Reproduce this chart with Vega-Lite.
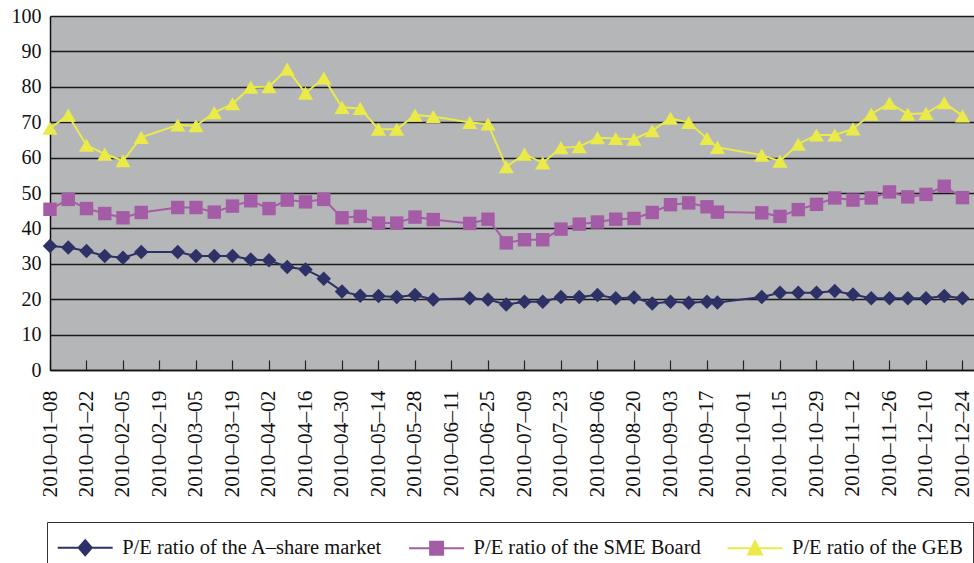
{
  "$schema": "https://vega.github.io/schema/vega-lite/v6.json",
  "width": 924,
  "height": 354,
  "autosize": {"type": "none"},
  "padding": {"left": 50, "top": 16, "right": 0, "bottom": 193},
  "background": "white",
  "config": {
    "view": {"fill": "#b5b6b8", "stroke": null},
    "font": "Liberation Serif, DejaVu Serif, Times New Roman, serif"
  },
  "data": {
    "values": [
      {"date": "2010-01-08", "A": 35.0, "SME": 45.4, "GEB": 68.3},
      {"date": "2010-01-15", "A": 34.6, "SME": 48.2, "GEB": 72.0},
      {"date": "2010-01-22", "A": 33.6, "SME": 45.6, "GEB": 63.5},
      {"date": "2010-01-29", "A": 32.2, "SME": 44.2, "GEB": 61.0},
      {"date": "2010-02-05", "A": 31.7, "SME": 43.0, "GEB": 59.1},
      {"date": "2010-02-12", "A": 33.3, "SME": 44.5, "GEB": 65.7},
      {"date": "2010-02-26", "A": 33.3, "SME": 45.9, "GEB": 69.2},
      {"date": "2010-03-05", "A": 32.2, "SME": 45.9, "GEB": 69.0},
      {"date": "2010-03-12", "A": 32.2, "SME": 44.6, "GEB": 72.7},
      {"date": "2010-03-19", "A": 32.2, "SME": 46.3, "GEB": 75.2},
      {"date": "2010-03-26", "A": 31.2, "SME": 47.8, "GEB": 79.9},
      {"date": "2010-04-02", "A": 31.0, "SME": 45.6, "GEB": 80.0},
      {"date": "2010-04-09", "A": 29.1, "SME": 48.0, "GEB": 85.0},
      {"date": "2010-04-16", "A": 28.4, "SME": 47.5, "GEB": 78.2},
      {"date": "2010-04-23", "A": 25.8, "SME": 48.2, "GEB": 82.5},
      {"date": "2010-04-30", "A": 22.2, "SME": 43.0, "GEB": 74.2},
      {"date": "2010-05-07", "A": 21.0, "SME": 43.4, "GEB": 73.9},
      {"date": "2010-05-14", "A": 20.9, "SME": 41.5, "GEB": 68.0},
      {"date": "2010-05-21", "A": 20.6, "SME": 41.5, "GEB": 68.0},
      {"date": "2010-05-28", "A": 21.2, "SME": 43.2, "GEB": 72.0},
      {"date": "2010-06-04", "A": 19.9, "SME": 42.5, "GEB": 71.6},
      {"date": "2010-06-18", "A": 20.3, "SME": 41.4, "GEB": 69.9},
      {"date": "2010-06-25", "A": 19.9, "SME": 42.6, "GEB": 69.5},
      {"date": "2010-07-02", "A": 18.5, "SME": 35.9, "GEB": 57.4},
      {"date": "2010-07-09", "A": 19.3, "SME": 36.8, "GEB": 61.0},
      {"date": "2010-07-16", "A": 19.3, "SME": 36.8, "GEB": 58.5},
      {"date": "2010-07-23", "A": 20.6, "SME": 39.8, "GEB": 62.8},
      {"date": "2010-07-30", "A": 20.6, "SME": 41.2, "GEB": 63.1},
      {"date": "2010-08-06", "A": 21.2, "SME": 41.8, "GEB": 65.6},
      {"date": "2010-08-13", "A": 20.3, "SME": 42.6, "GEB": 65.4},
      {"date": "2010-08-20", "A": 20.5, "SME": 42.8, "GEB": 65.2},
      {"date": "2010-08-27", "A": 18.8, "SME": 44.5, "GEB": 67.6},
      {"date": "2010-09-03", "A": 19.3, "SME": 46.7, "GEB": 71.1},
      {"date": "2010-09-10", "A": 19.0, "SME": 47.2, "GEB": 69.9},
      {"date": "2010-09-17", "A": 19.3, "SME": 46.1, "GEB": 65.4},
      {"date": "2010-09-21", "A": 19.1, "SME": 44.6, "GEB": 62.9},
      {"date": "2010-10-08", "A": 20.6, "SME": 44.4, "GEB": 60.7},
      {"date": "2010-10-15", "A": 21.8, "SME": 43.4, "GEB": 59.0},
      {"date": "2010-10-22", "A": 21.8, "SME": 45.3, "GEB": 63.8},
      {"date": "2010-10-29", "A": 21.8, "SME": 46.8, "GEB": 66.4},
      {"date": "2010-11-05", "A": 22.3, "SME": 48.6, "GEB": 66.4},
      {"date": "2010-11-12", "A": 21.3, "SME": 48.0, "GEB": 68.1},
      {"date": "2010-11-19", "A": 20.3, "SME": 48.6, "GEB": 72.3},
      {"date": "2010-11-26", "A": 20.3, "SME": 50.3, "GEB": 75.4},
      {"date": "2010-12-03", "A": 20.3, "SME": 48.9, "GEB": 72.3},
      {"date": "2010-12-10", "A": 20.3, "SME": 49.6, "GEB": 72.5},
      {"date": "2010-12-17", "A": 20.9, "SME": 51.9, "GEB": 75.5},
      {"date": "2010-12-24", "A": 20.3, "SME": 48.7, "GEB": 71.8}
    ]
  },
  "transform": [{"fold": ["A", "SME", "GEB"], "as": ["series", "value"]}],
  "encoding": {
    "x": {
      "field": "date",
      "type": "temporal",
      "scale": {
        "type": "utc",
        "domain": [
          {"year": 2010, "month": 1, "date": 8, "utc": true},
          {"year": 2010, "month": 12, "date": 28, "hours": 10, "utc": true}
        ]
      },
      "axis": {
        "title": null,
        "grid": false,
        "values": [
          {"year": 2010, "month": 1, "date": 8, "utc": true},
          {"year": 2010, "month": 1, "date": 22, "utc": true},
          {"year": 2010, "month": 2, "date": 5, "utc": true},
          {"year": 2010, "month": 2, "date": 19, "utc": true},
          {"year": 2010, "month": 3, "date": 5, "utc": true},
          {"year": 2010, "month": 3, "date": 19, "utc": true},
          {"year": 2010, "month": 4, "date": 2, "utc": true},
          {"year": 2010, "month": 4, "date": 16, "utc": true},
          {"year": 2010, "month": 4, "date": 30, "utc": true},
          {"year": 2010, "month": 5, "date": 14, "utc": true},
          {"year": 2010, "month": 5, "date": 28, "utc": true},
          {"year": 2010, "month": 6, "date": 11, "utc": true},
          {"year": 2010, "month": 6, "date": 25, "utc": true},
          {"year": 2010, "month": 7, "date": 9, "utc": true},
          {"year": 2010, "month": 7, "date": 23, "utc": true},
          {"year": 2010, "month": 8, "date": 6, "utc": true},
          {"year": 2010, "month": 8, "date": 20, "utc": true},
          {"year": 2010, "month": 9, "date": 3, "utc": true},
          {"year": 2010, "month": 9, "date": 17, "utc": true},
          {"year": 2010, "month": 10, "date": 1, "utc": true},
          {"year": 2010, "month": 10, "date": 15, "utc": true},
          {"year": 2010, "month": 10, "date": 29, "utc": true},
          {"year": 2010, "month": 11, "date": 12, "utc": true},
          {"year": 2010, "month": 11, "date": 26, "utc": true},
          {"year": 2010, "month": 12, "date": 10, "utc": true},
          {"year": 2010, "month": 12, "date": 24, "utc": true}
        ],
        "labelExpr": "utcFormat(datum.value, '%Y–%m–%d')",
        "labelAngle": -90,
        "labelAlign": "right",
        "labelBaseline": "middle",
        "labelFontSize": 21.4,
        "labelColor": "#111",
        "labelPadding": 30,
        "labelFlush": false,
        "labelOverlap": false,
        "ticks": true,
        "tickSize": -10,
        "tickColor": "#222",
        "tickWidth": 1.2,
        "domainColor": "#111",
        "domainWidth": 1.5
      }
    },
    "y": {
      "field": "value",
      "type": "quantitative",
      "scale": {"domain": [0, 100], "nice": false},
      "axis": {
        "title": null,
        "values": [0, 10, 20, 30, 40, 50, 60, 70, 80, 90, 100],
        "ticks": false,
        "labelPadding": 9,
        "labelFontSize": 20,
        "labelColor": "#111",
        "domainColor": "#111",
        "domainWidth": 1.5,
        "gridColor": "#1a1a1a",
        "gridWidth": 1.5,
        "gridOpacity": 1
      }
    },
    "color": {
      "field": "series",
      "type": "nominal",
      "scale": {"domain": ["A", "SME", "GEB"], "range": ["#2d3166", "#a55ca6", "#eaea48"]},
      "legend": {
        "title": null,
        "orient": "none",
        "legendX": -3,
        "legendY": 506,
        "direction": "horizontal",
        "labelExpr": "datum.value == 'A' ? 'P/E ratio of the A–share market' : datum.value == 'SME' ? 'P/E ratio of the SME Board' : 'P/E ratio of the GEB'",
        "labelFontSize": 20.5,
        "labelColor": "#111",
        "labelLimit": 0,
        "labelOffset": 21,
        "symbolOffset": 12.7,
        "symbolSize": 900,
        "symbolStrokeWidth": 2,
        "columnPadding": 22.4,
        "padding": 9.5,
        "strokeColor": "#333",
        "encode": {
          "symbols": {
            "update": {
              "shape": {"signal": "datum.value == 'A' ? 'M-1.833,0L1.833,0M0,-0.5L0.44,0L0,0.5L-0.44,0Z' : datum.value == 'SME' ? 'M-1.833,0L1.833,0M-0.43,-0.43L0.43,-0.43L0.43,0.43L-0.43,0.43Z' : 'M-1.833,0L1.833,0M0,-0.47L0.46,0.42L-0.46,0.42Z'"},
              "fill": {"signal": "scale('color', datum.value)"},
              "stroke": {"signal": "scale('color', datum.value)"},
              "strokeWidth": {"value": 2},
              "opacity": {"value": 1},
              "fillOpacity": {"value": 1},
              "size": {"value": 900}
            }
          }
        }
      }
    }
  },
  "layer": [
    {"mark": {"type": "line", "strokeWidth": 2}},
    {
      "transform": [{"filter": "datum.series == 'A'"}],
      "mark": {"type": "point", "filled": true, "opacity": 1, "shape": "diamond", "size": 210}
    },
    {
      "transform": [{"filter": "datum.series == 'SME'"}],
      "mark": {"type": "point", "filled": true, "opacity": 1, "shape": "square", "size": 180}
    },
    {
      "transform": [{"filter": "datum.series == 'GEB'"}],
      "mark": {"type": "point", "filled": true, "opacity": 1, "shape": "triangle-up", "size": 230}
    }
  ]
}
